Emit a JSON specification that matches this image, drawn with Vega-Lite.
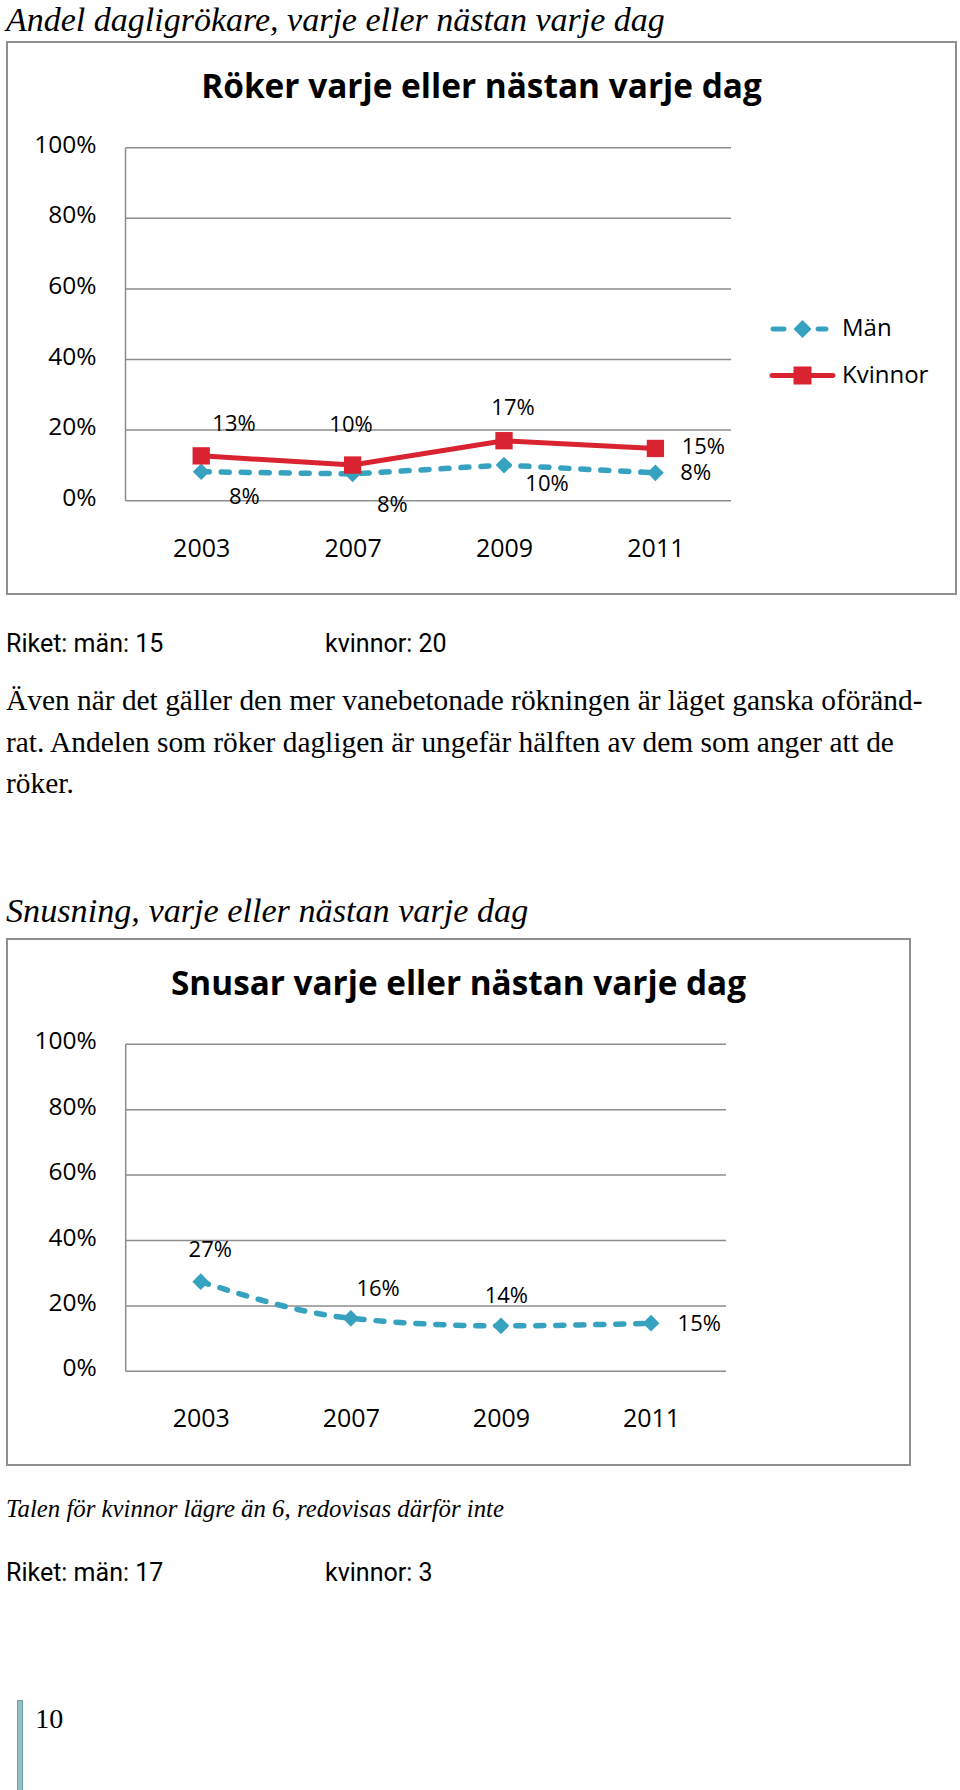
{
  "$schema": "https://vega.github.io/schema/vega-lite/v6.json",
  "background": "white",
  "padding": {"left": 6, "top": 0, "right": 0, "bottom": 0},
  "bounds": "flush",
  "spacing": 0,
  "config": {"view": {"stroke": null}},
  "datasets": {
    "rokning": [
      {"år": "2003", "serie": "Män", "andel": 0.082},
      {"år": "2007", "serie": "Män", "andel": 0.076},
      {"år": "2009", "serie": "Män", "andel": 0.101},
      {"år": "2011", "serie": "Män", "andel": 0.079},
      {"år": "2003", "serie": "Kvinnor", "andel": 0.127},
      {"år": "2007", "serie": "Kvinnor", "andel": 0.101},
      {"år": "2009", "serie": "Kvinnor", "andel": 0.170},
      {"år": "2011", "serie": "Kvinnor", "andel": 0.148}
    ],
    "snus": [
      {"år": "2003", "serie": "Män", "andel": 0.274},
      {"år": "2007", "serie": "Män", "andel": 0.162},
      {"år": "2009", "serie": "Män", "andel": 0.139},
      {"år": "2011", "serie": "Män", "andel": 0.147}
    ],
    "skala": [{"t": 0}, {"t": 0.2}, {"t": 0.4}, {"t": 0.6}, {"t": 0.8}, {"t": 1}],
    "rubrik1": [{"text": "Andel dagligrökare, varje eller nästan varje dag"}],
    "riket1": [{"grupp": "män", "text": "Riket: män: 15"}, {"grupp": "kvinnor", "text": "kvinnor: 20"}],
    "stycke": [{"text": "Även när det gäller den mer vanebetonade rökningen är läget ganska oföränd-\nrat. Andelen som röker dagligen är ungefär hälften av dem som anger att de\nröker."}],
    "rubrik2": [{"text": "Snusning, varje eller nästan varje dag"}],
    "fotnot": [{"text": "Talen för kvinnor lägre än 6, redovisas därför inte"}],
    "riket2": [{"grupp": "män", "text": "Riket: män: 17"}, {"grupp": "kvinnor", "text": "kvinnor: 3"}],
    "sida": [{"text": "10"}]
  },
  "vconcat": [
    {
      "width": 1, "height": 42,
      "data": {"name": "rubrik1"},
      "mark": {"type": "text", "font": "Liberation Serif", "fontStyle": "italic", "fontSize": 34, "color": "#000000", "align": "left", "baseline": "alphabetic", "dx": -1.5, "dy": 10},
      "encoding": {"text": {"field": "text", "type": "nominal"}}
    },
    {
      "width": 949, "height": 552,
      "view": {"stroke": "#8f8f8f", "strokeWidth": 2},
      "title": {"text": "Röker varje eller nästan varje dag", "font": "Open Sans", "fontSize": 33.4, "fontWeight": "bold", "color": "#000000", "anchor": "middle", "frame": "group", "offset": -63},
      "resolve": {"scale": {"x": "independent"}},
      "layer": [
        {
          "data": {"name": "skala"},
          "mark": {"type": "rule", "color": "#8c8c8c", "strokeWidth": 1.5},
          "encoding": {
            "y": {"field": "t", "type": "quantitative", "scale": {"domain": [0, 1], "range": [458.7, 105.7], "nice": false, "zero": false}, "axis": null},
            "x": {"datum": 0, "type": "quantitative", "scale": {"domain": [0, 1], "range": [118.5, 724], "nice": false, "zero": false}, "axis": null},
            "x2": {"datum": 1}
          }
        },
        {
          "data": {"name": "skala"},
          "transform": [{"filter": "datum.t === 0"}],
          "mark": {"type": "rule", "color": "#8c8c8c", "strokeWidth": 1.5},
          "encoding": {
            "y": {"datum": 0, "type": "quantitative", "scale": {"domain": [0, 1], "range": [458.7, 105.7], "nice": false, "zero": false}, "axis": null},
            "y2": {"datum": 1},
            "x": {"datum": 0, "type": "quantitative", "scale": {"domain": [0, 1], "range": [118.5, 724], "nice": false, "zero": false}, "axis": null}
          }
        },
        {
          "data": {"name": "skala"},
          "mark": {"type": "text", "font": "Open Sans", "fontSize": 24.5, "color": "#000000", "align": "right", "baseline": "middle", "dx": -29, "dy": -2},
          "encoding": {
            "y": {"field": "t", "type": "quantitative", "scale": {"domain": [0, 1], "range": [458.7, 105.7], "nice": false, "zero": false}, "axis": null},
            "x": {"datum": 0, "type": "quantitative", "scale": {"domain": [0, 1], "range": [118.5, 724], "nice": false, "zero": false}, "axis": null},
            "text": {"field": "t", "type": "quantitative", "format": ".0%"}
          }
        },
        {
          "data": {"name": "rokning"},
          "encoding": {
            "x": {"field": "år", "type": "ordinal", "scale": {"type": "point", "domain": ["2003", "2007", "2009", "2011"], "range": [194.2, 648.4], "padding": 0},
                  "axis": {"orient": "bottom", "offset": -93.3, "domain": false, "ticks": false, "tickSize": 0, "grid": false, "labelPadding": 35.5, "labelFont": "Open Sans", "labelFontSize": 25, "labelColor": "#000000", "labelAngle": 0, "title": null}},
            "y": {"field": "andel", "type": "quantitative", "scale": {"domain": [0, 1], "range": [458.7, 105.7], "nice": false, "zero": false}, "axis": null}
          },
          "layer": [
            {"transform": [{"filter": "datum.serie === 'Män'"}], "mark": {"type": "line", "color": "#36a2bf", "strokeWidth": 5.5, "strokeDash": [8, 12], "strokeCap": "round"}},
            {"transform": [{"filter": "datum.serie === 'Män'"}], "mark": {"type": "point", "shape": "diamond", "filled": true, "color": "#36a2bf", "size": 280, "opacity": 1}},
            {"transform": [{"filter": "datum.serie === 'Kvinnor'"}], "mark": {"type": "line", "color": "#da2330", "strokeWidth": 5}},
            {"transform": [{"filter": "datum.serie === 'Kvinnor'"}], "mark": {"type": "point", "shape": "square", "filled": true, "color": "#da2330", "size": 300, "opacity": 1}},
            {"transform": [{"filter": "datum.serie === 'Kvinnor' && datum['år'] === '2003'"}], "mark": {"type": "text", "font": "Open Sans", "fontSize": 22, "color": "#000000", "align": "center", "baseline": "middle", "dx": 32.8, "dy": -32}, "encoding": {"text": {"field": "andel", "type": "quantitative", "format": ".0%"}}},
            {"transform": [{"filter": "datum.serie === 'Kvinnor' && datum['år'] === '2007'"}], "mark": {"type": "text", "font": "Open Sans", "fontSize": 22, "color": "#000000", "align": "center", "baseline": "middle", "dx": -1.6, "dy": -40}, "encoding": {"text": {"field": "andel", "type": "quantitative", "format": ".0%"}}},
            {"transform": [{"filter": "datum.serie === 'Kvinnor' && datum['år'] === '2009'"}], "mark": {"type": "text", "font": "Open Sans", "fontSize": 22, "color": "#000000", "align": "center", "baseline": "middle", "dx": 9, "dy": -32.7}, "encoding": {"text": {"field": "andel", "type": "quantitative", "format": ".0%"}}},
            {"transform": [{"filter": "datum.serie === 'Kvinnor' && datum['år'] === '2011'"}], "mark": {"type": "text", "font": "Open Sans", "fontSize": 22, "color": "#000000", "align": "center", "baseline": "middle", "dx": 47.9, "dy": -1.2}, "encoding": {"text": {"field": "andel", "type": "quantitative", "format": ".0%"}}},
            {"transform": [{"filter": "datum.serie === 'Män' && datum['år'] === '2003'"}], "mark": {"type": "text", "font": "Open Sans", "fontSize": 22, "color": "#000000", "align": "center", "baseline": "middle", "dx": 43.1, "dy": 25.1}, "encoding": {"text": {"field": "andel", "type": "quantitative", "format": ".0%"}}},
            {"transform": [{"filter": "datum.serie === 'Män' && datum['år'] === '2007'"}], "mark": {"type": "text", "font": "Open Sans", "fontSize": 22, "color": "#000000", "align": "center", "baseline": "middle", "dx": 39.7, "dy": 31.5}, "encoding": {"text": {"field": "andel", "type": "quantitative", "format": ".0%"}}},
            {"transform": [{"filter": "datum.serie === 'Män' && datum['år'] === '2009'"}], "mark": {"type": "text", "font": "Open Sans", "fontSize": 22, "color": "#000000", "align": "center", "baseline": "middle", "dx": 43, "dy": 18.5}, "encoding": {"text": {"field": "andel", "type": "quantitative", "format": ".0%"}}},
            {"transform": [{"filter": "datum.serie === 'Män' && datum['år'] === '2011'"}], "mark": {"type": "text", "font": "Open Sans", "fontSize": 22, "color": "#000000", "align": "center", "baseline": "middle", "dx": 40.3, "dy": 0.4}, "encoding": {"text": {"field": "andel", "type": "quantitative", "format": ".0%"}}},
            {
              "mark": {"type": "point", "filled": true, "opacity": 0},
              "encoding": {
                "fill": {"field": "serie", "type": "nominal", "scale": {"domain": ["Män", "Kvinnor"], "range": ["#36a2bf", "#da2330"]},
                         "legend": {"orient": "none", "legendX": 783.5, "legendY": 317, "direction": "vertical", "title": null, "padding": 0, "symbolSize": 4, "symbolStrokeWidth": 0, "symbolOpacity": 1, "symbolOffset": 0, "labelFont": "Open Sans", "labelFontSize": 24, "labelColor": "#000000", "labelBaseline": "middle", "labelOffset": 27.5, "rowPadding": 22.5}},
                "shape": {"field": "serie", "type": "nominal", "scale": {"domain": ["Män", "Kvinnor"], "range": [
                           "M-29.5 -2.5H-18.5A2.5 2.5 0 0 1 -18.5 2.5H-29.5A2.5 2.5 0 0 1 -29.5 -2.5ZM0 -9L9 0L0 9L-9 0ZM15.5 -2.5H23.5A2.5 2.5 0 0 1 23.5 2.5H15.5A2.5 2.5 0 0 1 15.5 -2.5Z",
                           "M-30.5 -2.5H30.5A2.5 2.5 0 0 1 30.5 2.5H-30.5A2.5 2.5 0 0 1 -30.5 -2.5ZM-9 -9H9V9H-9Z"]},
                         "legend": {"orient": "none", "legendX": 783.5, "legendY": 317, "direction": "vertical", "title": null, "padding": 0, "symbolSize": 4, "symbolStrokeWidth": 0, "symbolOpacity": 1, "symbolOffset": 0, "labelFont": "Open Sans", "labelFontSize": 24, "labelColor": "#000000", "labelBaseline": "middle", "labelOffset": 27.5, "rowPadding": 22.5}}
              }
            }
          ]
        }
      ]
    },
    {
      "width": 319, "height": 78,
      "data": {"name": "riket1"},
      "mark": {"type": "text", "font": "Roboto", "fontSize": 25, "color": "#000000", "align": "left", "baseline": "alphabetic", "dx": -1, "dy": 19},
      "encoding": {
        "x": {"field": "grupp", "type": "nominal", "scale": {"type": "point", "domain": ["män", "kvinnor"], "padding": 0}, "axis": null},
        "text": {"field": "text", "type": "nominal"}
      }
    },
    {
      "width": 1, "height": 208,
      "data": {"name": "stycke"},
      "mark": {"type": "text", "font": "Liberation Serif", "fontSize": 29.4, "color": "#000000", "align": "left", "baseline": "alphabetic", "lineBreak": "\n", "lineHeight": 41.5, "dx": -1.5, "dy": -66},
      "encoding": {"text": {"field": "text", "type": "nominal"}}
    },
    {
      "width": 1, "height": 59,
      "data": {"name": "rubrik2"},
      "mark": {"type": "text", "font": "Liberation Serif", "fontStyle": "italic", "fontSize": 34.2, "color": "#000000", "align": "left", "baseline": "alphabetic", "dx": -1.5, "dy": 12.5},
      "encoding": {"text": {"field": "text", "type": "nominal"}}
    },
    {
      "width": 903, "height": 526,
      "view": {"stroke": "#8f8f8f", "strokeWidth": 2},
      "title": {"text": "Snusar varje eller nästan varje dag", "font": "Open Sans", "fontSize": 33.3, "fontWeight": "bold", "color": "#000000", "anchor": "middle", "frame": "group", "offset": -63},
      "resolve": {"scale": {"x": "independent"}},
      "layer": [
        {
          "data": {"name": "skala"},
          "mark": {"type": "rule", "color": "#8c8c8c", "strokeWidth": 1.5},
          "encoding": {
            "y": {"field": "t", "type": "quantitative", "scale": {"domain": [0, 1], "range": [432.3, 105.3], "nice": false, "zero": false}, "axis": null},
            "x": {"datum": 0, "type": "quantitative", "scale": {"domain": [0, 1], "range": [118.7, 719], "nice": false, "zero": false}, "axis": null},
            "x2": {"datum": 1}
          }
        },
        {
          "data": {"name": "skala"},
          "transform": [{"filter": "datum.t === 0"}],
          "mark": {"type": "rule", "color": "#8c8c8c", "strokeWidth": 1.5},
          "encoding": {
            "y": {"datum": 0, "type": "quantitative", "scale": {"domain": [0, 1], "range": [432.3, 105.3], "nice": false, "zero": false}, "axis": null},
            "y2": {"datum": 1},
            "x": {"datum": 0, "type": "quantitative", "scale": {"domain": [0, 1], "range": [118.7, 719], "nice": false, "zero": false}, "axis": null}
          }
        },
        {
          "data": {"name": "skala"},
          "mark": {"type": "text", "font": "Open Sans", "fontSize": 24.5, "color": "#000000", "align": "right", "baseline": "middle", "dx": -29, "dy": -2},
          "encoding": {
            "y": {"field": "t", "type": "quantitative", "scale": {"domain": [0, 1], "range": [432.3, 105.3], "nice": false, "zero": false}, "axis": null},
            "x": {"datum": 0, "type": "quantitative", "scale": {"domain": [0, 1], "range": [118.7, 719], "nice": false, "zero": false}, "axis": null},
            "text": {"field": "t", "type": "quantitative", "format": ".0%"}
          }
        },
        {
          "data": {"name": "snus"},
          "encoding": {
            "x": {"field": "år", "type": "ordinal", "scale": {"type": "point", "domain": ["2003", "2007", "2009", "2011"], "range": [193.75, 644.05], "padding": 0},
                  "axis": {"orient": "bottom", "offset": -93.7, "domain": false, "ticks": false, "tickSize": 0, "grid": false, "labelPadding": 35.5, "labelFont": "Open Sans", "labelFontSize": 25, "labelColor": "#000000", "labelAngle": 0, "title": null}},
            "y": {"field": "andel", "type": "quantitative", "scale": {"domain": [0, 1], "range": [432.3, 105.3], "nice": false, "zero": false}, "axis": null}
          },
          "layer": [
            {"mark": {"type": "line", "color": "#36a2bf", "strokeWidth": 5.5, "strokeDash": [8, 12], "strokeCap": "round", "interpolate": "monotone"}},
            {"mark": {"type": "point", "shape": "diamond", "filled": true, "color": "#36a2bf", "size": 280, "opacity": 1}},
            {"transform": [{"filter": "datum['år'] === '2003'"}], "mark": {"type": "text", "font": "Open Sans", "fontSize": 22, "color": "#000000", "align": "center", "baseline": "middle", "dx": 9.5, "dy": -31.9}, "encoding": {"text": {"field": "andel", "type": "quantitative", "format": ".0%"}}},
            {"transform": [{"filter": "datum['år'] === '2007'"}], "mark": {"type": "text", "font": "Open Sans", "fontSize": 22, "color": "#000000", "align": "center", "baseline": "middle", "dx": 27.2, "dy": -29.2}, "encoding": {"text": {"field": "andel", "type": "quantitative", "format": ".0%"}}},
            {"transform": [{"filter": "datum['år'] === '2009'"}], "mark": {"type": "text", "font": "Open Sans", "fontSize": 22, "color": "#000000", "align": "center", "baseline": "middle", "dx": 5.4, "dy": -29.8}, "encoding": {"text": {"field": "andel", "type": "quantitative", "format": ".0%"}}},
            {"transform": [{"filter": "datum['år'] === '2011'"}], "mark": {"type": "text", "font": "Open Sans", "fontSize": 22, "color": "#000000", "align": "center", "baseline": "middle", "dx": 48.2, "dy": 0.9}, "encoding": {"text": {"field": "andel", "type": "quantitative", "format": ".0%"}}},
            {
              "mark": {"type": "point", "filled": true, "opacity": 0},
              "encoding": {
                "fill": {"field": "serie", "type": "nominal", "scale": {"domain": ["Män"], "range": ["#36a2bf"]},
                         "legend": {"orient": "none", "legendX": 767.5, "legendY": 282, "direction": "vertical", "title": null, "padding": 0, "symbolSize": 4, "symbolStrokeWidth": 0, "symbolOpacity": 1, "symbolOffset": 0, "labelFont": "Open Sans", "labelFontSize": 24, "labelColor": "#000000", "labelBaseline": "middle", "labelOffset": 28.5, "rowPadding": 22.5}},
                "shape": {"field": "serie", "type": "nominal", "scale": {"domain": ["Män"], "range": [
                           "M-29.5 -2.5H-18.5A2.5 2.5 0 0 1 -18.5 2.5H-29.5A2.5 2.5 0 0 1 -29.5 -2.5ZM0 -9L9 0L0 9L-9 0ZM15.5 -2.5H23.5A2.5 2.5 0 0 1 23.5 2.5H15.5A2.5 2.5 0 0 1 15.5 -2.5Z"]},
                         "legend": {"orient": "none", "legendX": 767.5, "legendY": 282, "direction": "vertical", "title": null, "padding": 0, "symbolSize": 4, "symbolStrokeWidth": 0, "symbolOpacity": 1, "symbolOffset": 0, "labelFont": "Open Sans", "labelFontSize": 24, "labelColor": "#000000", "labelBaseline": "middle", "labelOffset": 28.5, "rowPadding": 22.5}}
              }
            }
          ]
        }
      ]
    },
    {
      "width": 1, "height": 75,
      "data": {"name": "fotnot"},
      "mark": {"type": "text", "font": "Liberation Serif", "fontStyle": "italic", "fontSize": 24.8, "color": "#000000", "align": "left", "baseline": "alphabetic", "dx": -1.5, "dy": 14.5},
      "encoding": {"text": {"field": "text", "type": "nominal"}}
    },
    {
      "width": 319, "height": 160,
      "data": {"name": "riket2"},
      "mark": {"type": "text", "font": "Roboto", "fontSize": 25, "color": "#000000", "align": "left", "baseline": "alphabetic", "dx": -1, "dy": -39},
      "encoding": {
        "x": {"field": "grupp", "type": "nominal", "scale": {"type": "point", "domain": ["män", "kvinnor"], "padding": 0}, "axis": null},
        "text": {"field": "text", "type": "nominal"}
      }
    },
    {
      "spacing": 0,
      "bounds": "flush",
      "hconcat": [
        {
          "width": 9.7, "height": 90,
          "data": {"values": []},
          "mark": {"type": "point", "opacity": 0}
        },
        {
          "width": 5, "height": 90,
          "view": {"fill": "#8fc3cc", "stroke": "#6f9aa3", "strokeWidth": 1},
          "data": {"name": "sida"},
          "mark": {"type": "text", "font": "Liberation Serif", "fontSize": 28, "color": "#000000", "align": "left", "baseline": "alphabetic", "dx": 15.8, "dy": -17.3},
          "encoding": {"text": {"field": "text", "type": "nominal"}}
        }
      ]
    }
  ]
}
